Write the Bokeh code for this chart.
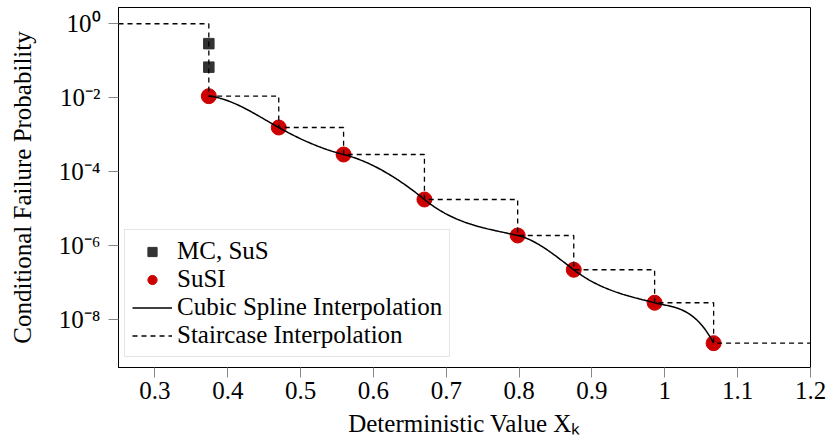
import numpy as np
from bokeh.plotting import figure
from bokeh.models import FixedTicker, CustomJSTickFormatter, Legend, LegendItem
from bokeh.embed import file_html
from bokeh.resources import INLINE

# ---- data ----
sus_x = [0.374, 0.374]
sus_p = [0.29, 0.067]
susi_x = [0.374, 0.470, 0.559, 0.670, 0.798, 0.875, 0.986, 1.067]
susi_p = [1.1e-2, 1.56e-3, 2.9e-4, 1.76e-5, 1.87e-6, 2.21e-7, 2.83e-8, 2.28e-9]
# tangent of the spline at each SuSI point (decades of probability per unit of x)
knot_slopes = [-2.0, -11.0, -5.0, -16.0, -4.5, -15.0, -5.0, -37.0]
stair_start = [0.25, 1.0]
stair_end_x = 1.2
xtick_vals = [0.3, 0.4, 0.5, 0.6, 0.7, 0.8, 0.9, 1.0, 1.1, 1.2]
ytick_exponents = [0, -2, -4, -6, -8]

FONT = "Liberation Serif"
FS = "25px"


def hermite_curve(xk, yk, mk, n=60):
    xs_all, ys_all = [], []
    for i in range(len(xk) - 1):
        x0, x1 = xk[i], xk[i + 1]
        h = x1 - x0
        t = np.linspace(0, 1, n)
        h00 = 2 * t ** 3 - 3 * t ** 2 + 1
        h10 = t ** 3 - 2 * t ** 2 + t
        h01 = -2 * t ** 3 + 3 * t ** 2
        h11 = t ** 3 - t ** 2
        y = h00 * yk[i] + h10 * h * mk[i] + h01 * yk[i + 1] + h11 * h * mk[i + 1]
        xs_all.append(x0 + t * h)
        ys_all.append(y)
    return np.concatenate(xs_all), np.concatenate(ys_all)


p = figure(width=829, height=441, x_range=(0.25, 1.2), y_range=(10 ** -9.30, 10 ** 0.44),
           y_axis_type="log", output_backend="svg", toolbar_location=None,
           min_border_left=118, min_border_right=19, min_border_top=7, min_border_bottom=74)
p.grid.visible = False
p.outline_line_color = "black"
p.outline_line_alpha = 1.0
p.background_fill_color = "white"
p.border_fill_color = "white"

# markers (drawn first, lines on top as in the reference)
sq = p.scatter(sus_x, sus_p, marker="square", size=10.5, fill_color="#333333", line_color="#333333")
ci = p.scatter(susi_x, susi_p, marker="circle", size=15, fill_color="#cc0000", line_color="#cc0000")

cx, cly = hermite_curve(susi_x, np.log10(susi_p), knot_slopes)
sp = p.line(cx, 10 ** cly, line_color="black", line_width=1.5)

st_x = [stair_start[0]] + susi_x + [stair_end_x]
st_p = [stair_start[1]] + susi_p + [susi_p[-1]]
st = p.step(st_x, st_p, mode="after", line_color="black", line_width=1.3, line_dash="5 4")

for ax in (p.xaxis[0], p.yaxis[0]):
    ax.axis_line_color = "black"
    ax.major_tick_line_color = "#888888"
    ax.major_tick_out = 10
    ax.major_tick_in = 0
    ax.minor_tick_line_color = None
    ax.major_label_text_font = FONT
    ax.major_label_text_font_size = FS
    ax.major_label_text_color = "black"
    ax.axis_label_text_font = FONT
    ax.axis_label_text_font_size = FS
    ax.axis_label_text_font_style = "normal"
    ax.axis_label_text_color = "black"

p.xaxis.ticker = FixedTicker(ticks=xtick_vals)
p.xaxis.formatter = CustomJSTickFormatter(code="return Number(tick.toFixed(2)).toString();")
p.xaxis.major_label_standoff = 4
p.xaxis.axis_label = "Deterministic Value Xₖ"
p.xaxis.axis_label_standoff = 8

p.yaxis.ticker = FixedTicker(ticks=[10.0 ** e for e in ytick_exponents])
p.yaxis.formatter = CustomJSTickFormatter(code="""
const sup = {'0':'⁰','1':'¹','2':'²','3':'³','4':'⁴','5':'⁵','6':'⁶','7':'⁷','8':'⁸','9':'⁹','-':'⁻'};
const e = Math.round(Math.log10(tick));
return '10' + String(e).split('').map(c => sup[c]).join('');
""")
p.yaxis.major_label_standoff = 8
p.yaxis.axis_label = "Conditional Failure Probability"
p.yaxis.axis_label_standoff = 20

legend = Legend(items=[
    LegendItem(label="MC, SuS", renderers=[sq]),
    LegendItem(label="SuSI", renderers=[ci]),
    LegendItem(label="Cubic Spline Interpolation", renderers=[sp]),
    LegendItem(label="Staircase Interpolation", renderers=[st]),
], location=(6, 10))
legend.label_text_font = FONT
legend.label_text_font_size = FS
legend.label_text_color = "black"
legend.glyph_width = 40
legend.glyph_height = 23
legend.label_height = 23
legend.spacing = 0
legend.padding = 7
legend.margin = 0
legend.label_standoff = 5
legend.border_line_color = "#cccccc"
legend.border_line_width = 1
legend.background_fill_alpha = 1.0
p.add_layout(legend, "center")

open("out.html", "w").write(file_html(p, INLINE))
